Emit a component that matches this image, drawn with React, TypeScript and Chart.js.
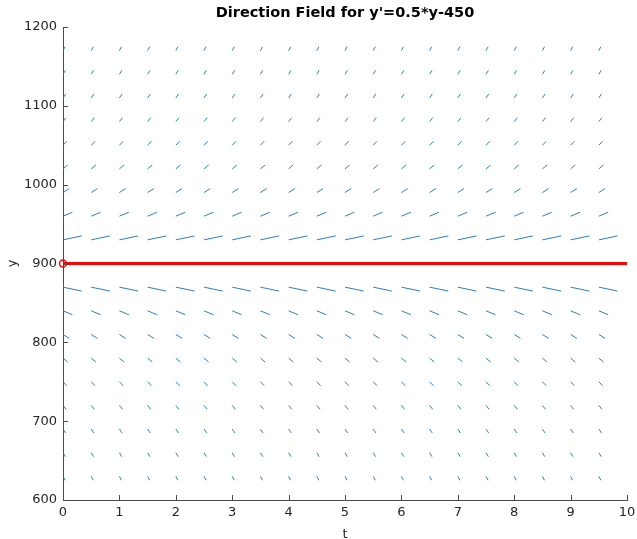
import React, { useEffect, useRef } from "react";
import { Chart, registerables } from "chart.js";

Chart.register(...registerables);

// ---- data ----
const chartTitle = "Direction Field for y'=0.5*y-450";
const xLabel = "t";
const yLabel = "y";

// grid columns (t) at which the slope segments start
const tGrid = [0, 0.5, 1, 1.5, 2, 2.5, 3, 3.5, 4, 4.5, 5, 5.5, 6, 6.5, 7, 7.5, 8, 8.5, 9, 9.5];
// grid rows (y) at which the slope segments start
const yRows = [630, 660, 690, 720, 750, 780, 810, 840, 870, 930, 960, 990, 1020, 1050, 1080, 1110, 1140, 1170];
// segment extent per row, in data units (t and y)
const rowDt = [0.037, 0.042, 0.048, 0.056, 0.067, 0.083, 0.111, 0.167, 0.333, 0.333, 0.167, 0.111, 0.083, 0.067, 0.056, 0.048, 0.042, 0.037];
const rowDy = [-5, -5, -5, -5, -5, -5, -5, -5, -4.99, 4.99, 5, 5, 5, 5, 5, 5, 5, 5];

// equilibrium solution line
const equilibriumT = [0, 10];
const equilibriumY = [900, 900];
// marker at initial point
const markerT = [0];
const markerY = [900];

const xMin = 0, xMax = 10, xStep = 1;
const yMin = 600, yMax = 1200, yStep = 100;

const AXIS_COLOR = "#4a4a4a";
const TEXT_COLOR = "#262626";
const FONT = "'DejaVu Sans', sans-serif";

export default function App() {
  const ref = useRef<HTMLCanvasElement | null>(null);

  useEffect(() => {
    document.body.style.margin = "0";
    const canvas = ref.current;
    if (!canvas) return;

    const fieldData: { x: number; y: number | null }[] = [];
    yRows.forEach((y0, i) => {
      tGrid.forEach((t0) => {
        fieldData.push({ x: t0, y: y0 });
        fieldData.push({ x: t0 + rowDt[i], y: y0 + rowDy[i] });
        fieldData.push({ x: t0 + rowDt[i], y: null });
      });
    });

    const eqData = equilibriumT.map((t, i) => ({ x: t, y: equilibriumY[i] }));
    const markerData = markerT.map((t, i) => ({ x: t, y: markerY[i] }));

    const decorPlugin = {
      id: "decor",
      afterDraw(chart: any) {
        const { ctx, chartArea, scales } = chart;
        const xs = scales.x;
        const ys = scales.y;
        ctx.save();
        // inward tick marks
        ctx.strokeStyle = AXIS_COLOR;
        ctx.lineWidth = 1;
        ctx.beginPath();
        xs.ticks.forEach((tk: any) => {
          const px = Math.round(xs.getPixelForValue(tk.value)) + 0.5;
          ctx.moveTo(px, chartArea.bottom);
          ctx.lineTo(px, chartArea.bottom - 5);
        });
        ys.ticks.forEach((tk: any) => {
          const py = Math.round(ys.getPixelForValue(tk.value)) + 0.5;
          ctx.moveTo(chartArea.left, py);
          ctx.lineTo(chartArea.left + 5, py);
        });
        ctx.stroke();
        // title
        ctx.fillStyle = "#000000";
        ctx.font = "bold 14.5px " + FONT;
        ctx.textAlign = "center";
        ctx.textBaseline = "middle";
        ctx.fillText(chartTitle, (chartArea.left + chartArea.right) / 2, 13);
        ctx.restore();
      },
    };

    const chart = new Chart(canvas, {
      type: "scatter",
      data: {
        datasets: [
          {
            label: "field",
            data: fieldData as any,
            showLine: true,
            spanGaps: false,
            borderColor: "#2f7dbb",
            borderWidth: 1,
            pointRadius: 0,
            pointHoverRadius: 0,
          },
          {
            label: "equilibrium",
            data: eqData,
            showLine: true,
            borderColor: "#ff0000",
            borderWidth: 3,
            pointRadius: 0,
            clip: false as any,
          },
          {
            label: "marker",
            data: markerData,
            showLine: false,
            pointRadius: 3.5,
            pointStyle: "circle",
            pointBackgroundColor: "rgba(255,255,255,0)",
            pointBorderColor: "#ff0000",
            pointBorderWidth: 1.5,
            clip: false as any,
          },
        ],
      },
      options: {
        animation: false,
        responsive: false,
        events: [],
        layout: { padding: { top: 27, right: 10, left: 0, bottom: 0 } },
        plugins: {
          legend: { display: false },
          title: { display: false },
          tooltip: { enabled: false },
        },
        scales: {
          x: {
            type: "linear",
            min: xMin,
            max: xMax,
            grid: { display: false, drawTicks: false },
            border: { display: true, color: AXIS_COLOR, width: 1 },
            ticks: {
              stepSize: xStep,
              padding: 5,
              color: TEXT_COLOR,
              font: { family: FONT, size: 13 },
              maxRotation: 0,
              callback: (v: any) => String(v),
            },
            title: {
              display: true,
              text: xLabel,
              color: TEXT_COLOR,
              font: { family: FONT, size: 13 },
              padding: { top: 0, bottom: -3 },
            },
            afterFit: (s: any) => {
              s.height = 39;
              s.paddingRight = 0;
              s.paddingLeft = 0;
            },
          },
          y: {
            type: "linear",
            min: yMin,
            max: yMax,
            grid: { display: false, drawTicks: false },
            border: { display: true, color: AXIS_COLOR, width: 1 },
            ticks: {
              stepSize: yStep,
              padding: 6,
              color: TEXT_COLOR,
              font: { family: FONT, size: 13 },
              callback: (v: any) => String(v),
            },
            title: {
              display: true,
              text: yLabel,
              color: TEXT_COLOR,
              font: { family: FONT, size: 13 },
              padding: { top: 5, bottom: 0 },
            },
            afterFit: (s: any) => {
              s.width = 63;
              s.paddingTop = 0;
              s.paddingBottom = 0;
            },
          },
        },
      },
      plugins: [decorPlugin],
    });

    return () => chart.destroy();
  }, []);

  return (
    <div style={{ width: 637, height: 539 }}>
      <canvas ref={ref} width={637} height={539} style={{ display: "block" }} />
    </div>
  );
}
